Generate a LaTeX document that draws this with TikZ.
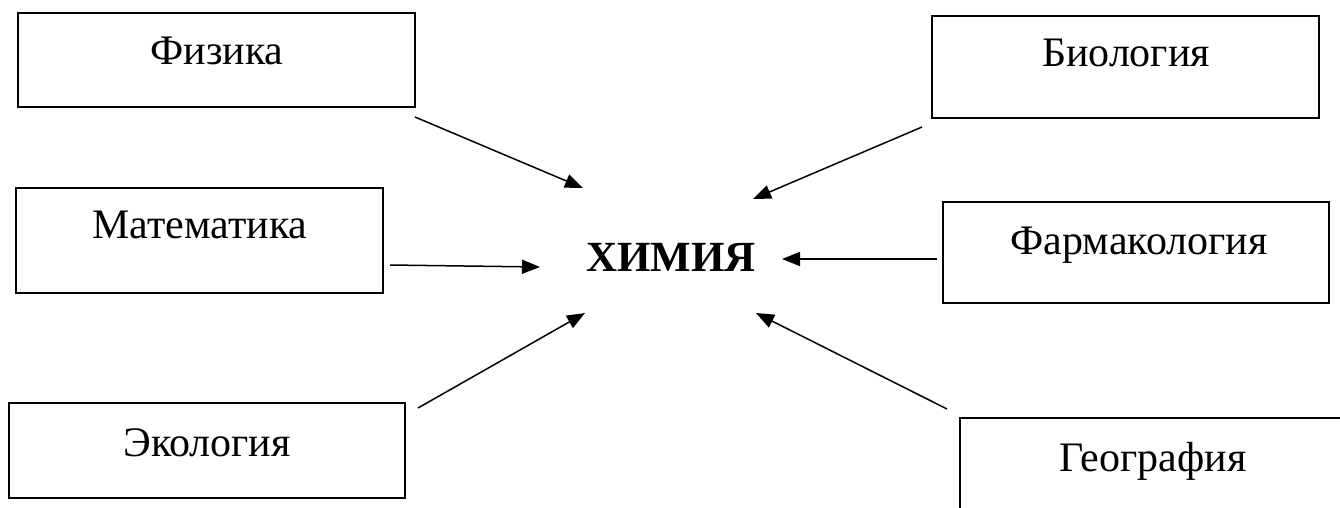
\documentclass[tikz,border=0pt]{standalone}
\usepackage{fontspec}
\setmainfont{Liberation Serif}
\usetikzlibrary{arrows.meta}

\begin{document}
\begin{tikzpicture}[x=1pt,y=-1pt,
  panel/.style={draw, line width=2pt, inner sep=0pt, outer sep=0pt},
  lbl/.style={anchor=base, inner sep=0pt, font=\fontsize{42}{50}\selectfont},
  centre/.style={anchor=base, inner sep=0pt, font=\fontsize{43}{50}\selectfont\bfseries},
  conn/.style={line width=1.5pt, -{Triangle[length=18pt,width=14pt]}}]

% page area
\fill[white] (0,0) rectangle (1340,507);
\useasboundingbox (0,0) rectangle (1340,507);

% subject boxes
\node[panel, minimum width=397pt, minimum height=94pt]  (fiz) at (216.5,60)  {};
\node[panel, minimum width=387pt, minimum height=102pt] (bio) at (1125.5,67) {};
\node[panel, minimum width=367pt, minimum height=105pt] (mat) at (199.5,240.5) {};
\node[panel, minimum width=386pt, minimum height=101pt] (pha) at (1136,252.5) {};
\node[panel, minimum width=396pt, minimum height=95pt]  (eco) at (207,450.5) {};
\node[panel, minimum width=386pt, minimum height=100pt] (geo) at (1153,468) {};

% box captions
\node[lbl] (fizt) at (217,64)  {Физика};
\node[lbl] (biot) at (1126,66) {Биология};
\node[lbl] (matt) at (200,238) {Математика};
\node[lbl] (phat) at (1139,254) {Фармакология};
\node[lbl] (ecot) at (207,456) {Экология};
\node[lbl] (geot) at (1153,471) {География};

% central subject
\node[centre] (chem) at (671,271) {ХИМИЯ};

% arrow ends
\coordinate (fizA) at (415,117); \coordinate (fizB) at (583,188);
\coordinate (bioA) at (922,127); \coordinate (bioB) at (753,199);
\coordinate (matA) at (390,265); \coordinate (matB) at (540,267);
\coordinate (phaA) at (937,259); \coordinate (phaB) at (782,259);
\coordinate (ecoA) at (418,408); \coordinate (ecoB) at (585,313);
\coordinate (geoA) at (947,409); \coordinate (geoB) at (756,313);

% links towards the centre
\draw[conn] (fizA) -- (fizB);
\draw[conn] (bioA) -- (bioB);
\draw[conn] (matA) -- (matB);
\draw[conn] (phaA) -- (phaB);
\draw[conn] (ecoA) -- (ecoB);
\draw[conn] (geoA) -- (geoB);
\end{tikzpicture}
\end{document}
